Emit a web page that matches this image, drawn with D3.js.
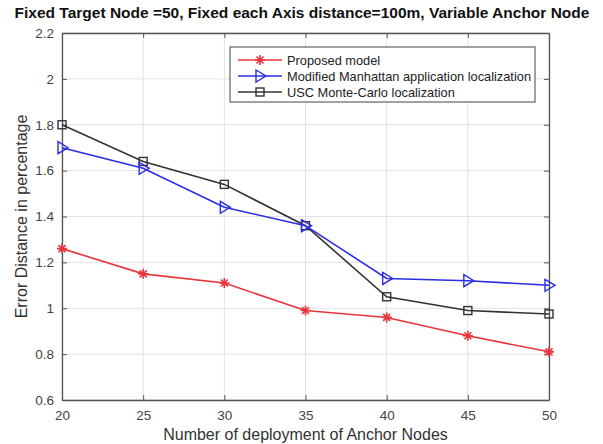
<!DOCTYPE html>
<html>
<head>
<meta charset="utf-8">
<script src="https://cdn.jsdelivr.net/npm/d3@7"></script>
<style>
  body { margin: 0; background: #fff; }
  text { font-family: "Liberation Sans", Arial, sans-serif; }
</style>
</head>
<body>
<svg id="chart" width="603" height="444"></svg>
<script>
// data
const anchors = [20, 25, 30, 35, 40, 45, 50];
const proposed = [1.26, 1.15, 1.11, 0.99, 0.96, 0.88, 0.81];
const manhattan = [1.70, 1.61, 1.44, 1.36, 1.13, 1.12, 1.10];
const monteCarlo = [1.80, 1.64, 1.54, 1.36, 1.05, 0.99, 0.975];
const xTicks = [20, 25, 30, 35, 40, 45, 50];
const yTicks = [0.6, 0.8, 1, 1.2, 1.4, 1.6, 1.8, 2, 2.2];
const seriesNames = ["Proposed model", "Modified Manhattan application localization", "USC Monte-Carlo localization"];

const margin = {top: 33, right: 54, bottom: 44, left: 62};
const width = 603 - margin.left - margin.right;
const height = 444 - margin.top - margin.bottom;

const svg = d3.select("#chart");
const g = svg.append("g").attr("transform", "translate(" + margin.left + "," + margin.top + ")");

const x = d3.scaleLinear().domain([20, 50]).range([0, width]);
const y = d3.scaleLinear().domain([0.6, 2.2]).range([height, 0]);

// grid
g.selectAll(".gx").data(xTicks).enter().append("line")
  .attr("x1", d => x(d)).attr("x2", d => x(d))
  .attr("y1", 0).attr("y2", height)
  .attr("stroke", "#e2e2e2").attr("stroke-width", 1);
g.selectAll(".gy").data(yTicks).enter().append("line")
  .attr("y1", d => y(d)).attr("y2", d => y(d))
  .attr("x1", 0).attr("x2", width)
  .attr("stroke", "#e2e2e2").attr("stroke-width", 1);

// axes (matlab style box, ticks inward)
const fmt = d => d3.format("")(+d.toFixed(1));
const xAxis = g.append("g").attr("transform", "translate(0," + height + ")")
  .call(d3.axisBottom(x).tickValues(xTicks).tickSizeInner(-5).tickSizeOuter(0).tickPadding(10).tickFormat(fmt));
const xTop = g.append("g")
  .call(d3.axisTop(x).tickValues(xTicks).tickSizeInner(-5).tickSizeOuter(0).tickFormat(""));
const yAxis = g.append("g")
  .call(d3.axisLeft(y).tickValues(yTicks).tickSizeInner(-5).tickSizeOuter(0).tickPadding(8).tickFormat(fmt));
const yRight = g.append("g").attr("transform", "translate(" + width + ",0)")
  .call(d3.axisRight(y).tickValues(yTicks).tickSizeInner(-5).tickSizeOuter(0).tickFormat(""));

[xAxis, xTop, yAxis, yRight].forEach(a => {
  a.selectAll("path").attr("stroke", "#555").attr("stroke-width", 1.3);
  a.selectAll("line").attr("stroke", "#555");
  a.selectAll("text").attr("fill", "#444").style("font-size", "13.5px");
});

// series
const series = [
  {name: seriesNames[0], values: proposed, color: "#e8343a", marker: "star"},
  {name: seriesNames[1], values: manhattan, color: "#2a2ee0", marker: "tri"},
  {name: seriesNames[2], values: monteCarlo, color: "#333", marker: "square"}
];

const line = d3.line().x((d, i) => x(anchors[i])).y(d => y(d));

function drawMarker(sel, type, color) {
  if (type === "star") {
    sel.append("path").attr("d", "M-5,0L5,0M0,-5L0,5M-3.5,-3.5L3.5,3.5M-3.5,3.5L3.5,-3.5")
      .attr("stroke", color).attr("stroke-width", 1.6).attr("fill", "none");
  } else if (type === "tri") {
    sel.append("path").attr("d", "M-4,-6L6,0L-4,6Z")
      .attr("stroke", color).attr("stroke-width", 1.4).attr("fill", "none");
  } else {
    sel.append("rect").attr("x", -4).attr("y", -4).attr("width", 8).attr("height", 8)
      .attr("stroke", color).attr("stroke-width", 1.4).attr("fill", "none");
  }
}

series.slice().reverse().forEach(s => {
  g.append("path").datum(s.values)
    .attr("d", line).attr("fill", "none")
    .attr("stroke", s.color).attr("stroke-width", 1.6);
  s.values.forEach((v, i) => {
    const m = g.append("g").attr("transform", "translate(" + x(anchors[i]) + "," + y(v) + ")");
    drawMarker(m, s.marker, s.color);
  });
});

// legend
const legend = svg.append("g").attr("transform", "translate(230,47)");
legend.append("rect").attr("width", 305).attr("height", 55)
  .attr("fill", "#fff").attr("stroke", "#444").attr("stroke-width", 1);
series.forEach((s, i) => {
  const row = legend.append("g").attr("transform", "translate(0," + (13 + i * 16) + ")");
  row.append("line").attr("x1", 8).attr("x2", 52).attr("stroke", s.color).attr("stroke-width", 1.5);
  const m = row.append("g").attr("transform", "translate(30,0)");
  drawMarker(m, s.marker, s.color);
  row.append("text").attr("x", 57).attr("y", 4.5).text(s.name)
    .attr("fill", "#222").style("font-size", "12.8px");
});

// labels
svg.append("text").attr("x", 302).attr("y", 18).attr("text-anchor", "middle")
  .style("font-size", "15.5px").style("font-weight", "bold").attr("fill", "#111")
  .text("Fixed Target Node =50, Fixed each Axis distance=100m, Variable Anchor Node");
svg.append("text").attr("x", margin.left + width / 2).attr("y", 440).attr("text-anchor", "middle")
  .style("font-size", "16px").attr("fill", "#333")
  .text("Number of deployment of Anchor Nodes");
svg.append("text").attr("transform", "translate(27," + (margin.top + height / 2) + ") rotate(-90)")
  .attr("text-anchor", "middle").style("font-size", "16px").attr("fill", "#333")
  .text("Error Distance in percentage");
</script>
</body>
</html>
